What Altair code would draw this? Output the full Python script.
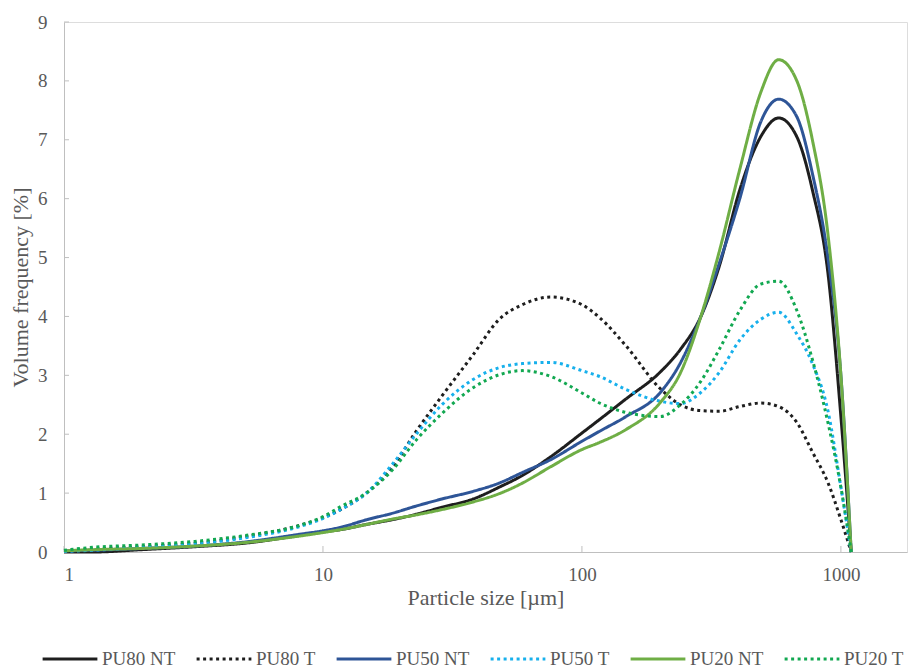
import altair as alt
import pandas as pd

# Particle size grid (µm)
sizes = [1, 1.3, 2, 3.2, 5, 8.1, 10, 11.7, 14.8, 18.6, 22.9, 28.8, 38, 47.9, 58.9,
         75.9, 100, 117, 148, 200, 240, 288, 339, 407, 490, 575, 676, 776, 891, 1000, 1096]

pu80_nt = [0.0, 0.0, 0.04, 0.09, 0.15, 0.28, 0.34, 0.38, 0.47, 0.55, 0.64, 0.76, 0.9, 1.1, 1.3,
           1.62, 2.02, 2.25, 2.6, 3.05, 3.44, 4.0, 4.85, 6.15, 7.05, 7.37, 7.05, 6.15, 4.74, 2.3, 0.0]
pu80_t = [0.02, 0.05, 0.09, 0.15, 0.26, 0.45, 0.58, 0.72, 1.01, 1.45, 2.05, 2.65, 3.35, 3.95, 4.2,
          4.33, 4.2, 3.98, 3.5, 2.78, 2.5, 2.4, 2.39, 2.47, 2.53, 2.47, 2.2, 1.7, 1.18, 0.55, 0.0]
pu50_nt = [0.02, 0.03, 0.06, 0.1, 0.17, 0.3, 0.36, 0.42, 0.55, 0.66, 0.78, 0.9, 1.03, 1.17, 1.35,
           1.57, 1.88, 2.05, 2.3, 2.7, 3.21, 4.0, 4.9, 6.0, 7.3, 7.69, 7.39, 6.43, 5.0, 3.0, 0.0]
pu50_t = [0.01, 0.03, 0.08, 0.14, 0.24, 0.43, 0.57, 0.72, 1.01, 1.5, 2.0, 2.5, 2.93, 3.13, 3.2,
          3.22, 3.08, 2.98, 2.76, 2.56, 2.52, 2.71, 3.05, 3.6, 3.95, 4.07, 3.7, 3.2, 2.4, 1.1, 0.0]
pu20_nt = [0.02, 0.04, 0.06, 0.1, 0.16, 0.27, 0.33, 0.38, 0.47, 0.56, 0.63, 0.72, 0.85, 0.99, 1.17,
           1.45, 1.74, 1.86, 2.08, 2.53, 3.04, 4.0, 5.1, 6.5, 7.8, 8.36, 8.0, 7.0, 5.4, 3.0, 0.0]
pu20_t = [0.03, 0.08, 0.12, 0.18, 0.28, 0.45, 0.6, 0.77, 1.01, 1.4, 1.9, 2.35, 2.79, 3.01, 3.08,
          2.98, 2.7, 2.53, 2.37, 2.3, 2.5, 2.9, 3.44, 4.1, 4.55, 4.6, 4.1, 3.27, 2.2, 1.1, 0.0]

series_names = ["PU80 NT", "PU80 T", "PU50 NT", "PU50 T", "PU20 NT", "PU20 T"]
series_values = [pu80_nt, pu80_t, pu50_nt, pu50_t, pu20_nt, pu20_t]
series_colors = ["#1e1e1e", "#1e1e1e", "#2e5597", "#17b0ec", "#6fae45", "#12a851"]
series_dash = [[1, 0], [3, 3.5], [1, 0], [3, 3.5], [1, 0], [3, 3.5]]

x_ticks = [1, 10, 100, 1000]
y_ticks = [0, 1, 2, 3, 4, 5, 6, 7, 8, 9]

rows = []
for name, vals in zip(series_names, series_values):
    for i, (s, v) in enumerate(zip(sizes, vals)):
        rows.append({"series": name, "size": s, "vf": v, "order": i})
df = pd.DataFrame(rows)

FONT = "Liberation Serif"
GRAY = "#595959"
AXIS = "#bfbfbf"

x_scale = alt.Scale(type="log", domain=[1, 1800], nice=False)
y_scale = alt.Scale(domain=[0, 9], nice=False)

legend_cfg = dict(title=None, orient="none", direction="horizontal",
                  columns=6, legendX=-23, legendY=608,
                  symbolType="stroke", symbolSize=3000,
                  symbolStrokeWidth=3, labelFont=FONT,
                  labelFontSize=19, labelColor=GRAY,
                  labelOffset=3, columnPadding=14)

lines = alt.Chart(df).mark_line(strokeWidth=3, interpolate="monotone").encode(
    x=alt.X("size:Q", scale=x_scale,
            axis=alt.Axis(title="Particle size [µm]", values=x_ticks, format="d",
                          grid=False, ticks=False, domainColor=AXIS, domainWidth=1,
                          labelFont=FONT, labelFontSize=19, labelColor=GRAY, labelPadding=13,
                          titleFont=FONT, titleFontSize=22, titleFontWeight="normal",
                          titleColor=GRAY, titlePadding=3)),
    y=alt.Y("vf:Q", scale=y_scale,
            axis=alt.Axis(title="Volume frequency [%]", values=y_ticks, format="d",
                          grid=False, ticks=False, domainColor=AXIS, domainWidth=1,
                          labelFont=FONT, labelFontSize=19, labelColor=GRAY, labelPadding=17,
                          titleFont=FONT, titleFontSize=22, titleFontWeight="normal",
                          titleColor=GRAY, titlePadding=5)),
    color=alt.Color("series:N", sort=series_names,
                    scale=alt.Scale(domain=series_names, range=series_colors),
                    legend=alt.Legend(**legend_cfg)),
    strokeDash=alt.StrokeDash("series:N", sort=series_names,
                              scale=alt.Scale(domain=series_names, range=series_dash),
                              legend=alt.Legend(**legend_cfg)),
    order="order:Q",
)

xt = pd.DataFrame({"t": x_ticks})
x_tick_marks = alt.Chart(xt).mark_rule(color=AXIS, strokeWidth=1).encode(
    x=alt.X("t:Q", scale=x_scale), y=alt.value(530), y2=alt.value(524))

yt = pd.DataFrame({"t": y_ticks})
y_tick_marks = alt.Chart(yt).mark_rule(color=AXIS, strokeWidth=1).encode(
    y=alt.Y("t:Q", scale=y_scale), x=alt.value(0), x2=alt.value(5))

chart = alt.layer(x_tick_marks, y_tick_marks, lines).properties(
    width=843, height=530,
    autosize=alt.AutoSizeParams(type="none"),
    padding={"left": 64, "top": 22, "right": 2, "bottom": 120},
).configure_view(stroke=None).configure(background="white")

chart.save("out.html", embed_options={"renderer": "svg", "actions": False})
